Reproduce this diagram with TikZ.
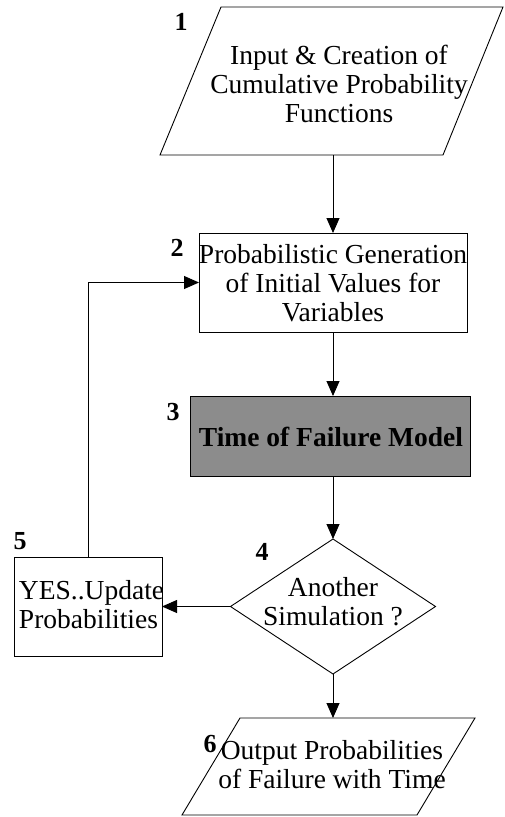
\documentclass[tikz,border=0pt]{standalone}
\usepackage{fontspec}
\setmainfont{Liberation Serif}
\usetikzlibrary{arrows.meta,shapes.geometric}
\begin{document}
\begin{tikzpicture}[x=1pt,y=-1pt,
  every node/.style={inner sep=0pt,outer sep=0pt},
  txt/.style={font=\fontsize{27.5}{29}\selectfont,align=center},
  num/.style={font=\fontsize{26}{28}\selectfont\bfseries},
  shp/.style={draw=black,line width=0.9pt},
  conn/.style={line width=0.9pt,-{Triangle[width=13pt,length=15pt]}},
  plain/.style={line width=0.9pt}]
\useasboundingbox (0,0) rectangle (505,817);
% shape 1: parallelogram
\coordinate (p1a) at (221,7);
\coordinate (p1b) at (503,7);
\coordinate (p1c) at (443,155);
\coordinate (p1d) at (160,155);
\draw[shp] (p1a) -- (p1b) -- (p1c) -- (p1d) -- cycle;
\coordinate (p1s) at (333,155);
\node[txt] (t1) at (339,84) {Input \& Creation of\\Cumulative Probability\\Functions};
\node[num] (n1) at (181,22) {1};
% box 2
\node[shp,minimum width=268pt,minimum height=99pt] (b2) at (333,282.5) {};
\node[txt] (t2) at (333,283) {Probabilistic Generation\\of Initial Values for\\Variables};
\node[num] (n2) at (177,248) {2};
% box 3
\node[shp,fill=black!45,minimum width=280pt,minimum height=80pt] (b3) at (330,436) {};
\node[txt,font=\fontsize{27.5}{29}\selectfont\bfseries] (t3) at (331,436.5) {Time of Failure Model};
\node[num] (n3) at (173,412) {3};
% diamond 4
\node[shp,diamond,minimum width=205pt,minimum height=135pt] (d4) at (333,606.5) {};
\node[txt] (t4) at (333,602) {Another\\Simulation ?};
\node[num] (n4) at (262,552) {4};
% box 5
\node[shp,minimum width=148pt,minimum height=99pt] (b5) at (88,606.5) {};
\node[txt,align=left,anchor=west] (t5) at (19,605) {YES..Update\\Probabilities};
\node[num] (n5) at (20,541) {5};
% shape 6: parallelogram
\coordinate (p6a) at (240,718);
\coordinate (p6b) at (475,718);
\coordinate (p6c) at (417,815);
\coordinate (p6d) at (182,815);
\draw[shp] (p6a) -- (p6b) -- (p6c) -- (p6d) -- cycle;
\coordinate (p6n) at (333,718);
\node[txt] (t6) at (332,765) {Output Probabilities\\of Failure with Time};
\node[num] (n6) at (210,744) {6};
% connectors
\draw[conn] (p1s) -- (b2.north);
\draw[conn] (b2.south) -- (b3.north -| b2.south);
\draw[conn] (b3.south -| b2.south) -- (d4.north);
\draw[conn] (d4.west) -- (b5.east);
\draw[conn] (d4.south) -- (p6n);
\coordinate (lp) at (88,282.5);
\draw[plain] (b5.north) -- (lp);
\draw[conn] (lp) -- (b2.west);
\end{tikzpicture}
\end{document}
